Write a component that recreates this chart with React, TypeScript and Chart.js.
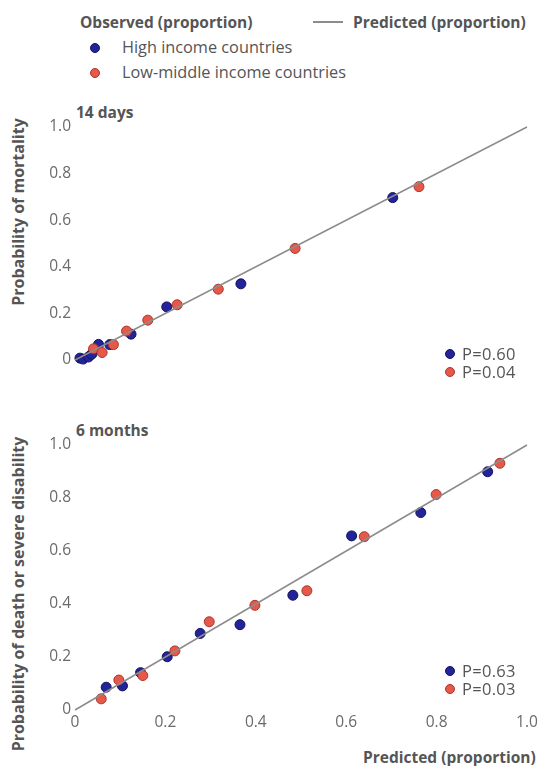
import React, { useEffect, useRef } from "react";
import { Chart, registerables } from "chart.js";

Chart.register(...registerables);

// ---- Data ----
const axisTicks = [0, 0.2, 0.4, 0.6, 0.8, 1.0];
const predictedLine = [0, 1];

// 14 days mortality
const mortHighX = [0.011, 0.018, 0.030, 0.037, 0.052, 0.077, 0.124, 0.203, 0.367, 0.703];
const mortHighY = [0.008, 0.004, 0.013, 0.025, 0.067, 0.066, 0.111, 0.228, 0.327, 0.697];
const mortLowX = [0.041, 0.060, 0.085, 0.114, 0.161, 0.226, 0.317, 0.487, 0.761];
const mortLowY = [0.048, 0.032, 0.066, 0.124, 0.171, 0.237, 0.304, 0.479, 0.744];

// 6 months death or severe disability
const disHighX = [0.069, 0.105, 0.145, 0.204, 0.277, 0.365, 0.482, 0.612, 0.765, 0.913];
const disHighY = [0.086, 0.091, 0.141, 0.201, 0.289, 0.322, 0.433, 0.657, 0.745, 0.899];
const disLowX = [0.058, 0.097, 0.150, 0.221, 0.297, 0.398, 0.513, 0.640, 0.799, 0.940];
const disLowY = [0.042, 0.113, 0.130, 0.223, 0.333, 0.395, 0.450, 0.654, 0.813, 0.931];

const pTop = ["P=0.60", "P=0.04"];
const pBottom = ["P=0.63", "P=0.03"];

const BLUE = "#23239a";
const BLUE_B = "#14145a";
const RED = "#e5584a";
const RED_B = "#a8372d";
const LINE = "#8c8c8c";
const TEXT = "#555555";
const TICK = "#6a6a6a";
const SANS = "'Open Sans', 'Noto Sans', sans-serif";
const BOLD = "'Open Sans', 'Noto Sans', sans-serif";

const zip = (xs: number[], ys: number[]) => xs.map((x, i) => ({ x, y: ys[i] }));

function Panel(props: {
  top: number;
  height: number;
  padTop: number;
  showX: boolean;
  highX: number[];
  highY: number[];
  lowX: number[];
  lowY: number[];
}) {
  const ref = useRef<HTMLCanvasElement>(null);
  useEffect(() => {
    if (!ref.current) return;
    const chart = new Chart(ref.current, {
      type: "scatter",
      data: {
        datasets: [
          {
            type: "line",
            data: zip(predictedLine, predictedLine),
            borderColor: LINE,
            borderWidth: 1.5,
            pointRadius: 0,
            fill: false,
            clip: false,
          } as any,
          {
            data: zip(props.lowX, props.lowY),
            backgroundColor: RED,
            borderColor: RED_B,
            borderWidth: 1,
            pointRadius: 5,
            clip: false,
          },
          {
            data: zip(props.highX, props.highY),
            backgroundColor: BLUE,
            borderColor: BLUE_B,
            borderWidth: 1,
            pointRadius: 5,
            clip: false,
          },
        ],
      },
      options: {
        animation: false,
        responsive: false,
        maintainAspectRatio: false,
        layout: { padding: { top: props.padTop, right: 15, bottom: props.showX ? 0 : 10, left: 0 } },
        plugins: { legend: { display: false }, tooltip: { enabled: false } },
        scales: {
          x: {
            type: "linear",
            min: 0,
            max: 1,
            display: props.showX,
            grid: { display: false, drawTicks: false },
            border: { display: false },
            afterBuildTicks: (s: any) => {
              s.ticks = axisTicks.map((v) => ({ value: v }));
            },
            afterFit: (s: any) => {
              s.height = 30;
            },
            ticks: {
              color: TICK,
              padding: 3,
              font: { family: SANS, size: 15.5 },
              maxRotation: 0,
              callback: (v: any) => (Number(v) === 0 ? "0" : Number(v).toFixed(1)),
            },
          },
          y: {
            type: "linear",
            min: 0,
            max: 1,
            grid: { display: false, drawTicks: false },
            border: { display: false },
            afterBuildTicks: (s: any) => {
              s.ticks = axisTicks.map((v) => ({ value: v }));
            },
            afterFit: (s: any) => {
              s.width = 75;
            },
            ticks: {
              color: TICK,
              padding: 4,
              font: { family: SANS, size: 15.5 },
              callback: (v: any) => (Number(v) === 0 ? "0" : Number(v).toFixed(1)),
            },
          },
        },
      },
    });
    return () => chart.destroy();
  }, []);
  return (
    <canvas
      ref={ref}
      width={542}
      height={props.height}
      style={{ position: "absolute", left: 0, top: props.top, width: 542, height: props.height }}
    />
  );
}

const txt = (
  left: number,
  cy: number,
  text: string,
  size: number,
  bold: boolean,
  spacing = 0
): React.ReactNode => (
  <div
    key={text + left + cy}
    style={{
      position: "absolute",
      left,
      top: cy - size * 0.6,
      fontSize: size,
      lineHeight: `${size * 1.2}px`,
      fontFamily: bold ? BOLD : SANS,
      fontWeight: bold ? 700 : 400,
      letterSpacing: spacing,
      color: TEXT,
      whiteSpace: "nowrap",
    }}
  >
    {text}
  </div>
);

const dot = (cx: number, cy: number, fill: string, border: string) => (
  <div
    key={"d" + cx + cy}
    style={{
      position: "absolute",
      left: cx - 5,
      top: cy - 5,
      width: 10,
      height: 10,
      borderRadius: "50%",
      background: fill,
      boxSizing: "border-box",
      border: `1px solid ${border}`,
    }}
  />
);

const vtitle = (cx: number, cy: number, text: string) => (
  <div
    style={{
      position: "absolute",
      left: cx,
      top: cy,
      transform: "translate(-50%, -50%) rotate(-90deg)",
      fontSize: 16,
      fontFamily: BOLD,
      fontWeight: 700,
      color: TEXT,
      whiteSpace: "nowrap",
      lineHeight: 1,
    }}
  >
    {text}
  </div>
);

export default function App() {
  return (
    <div
      style={{
        position: "fixed",
        left: 0,
        top: 0,
        width: 542,
        height: 766,
        background: "#fff",
        overflow: "hidden",
      }}
    >
      {/* Legend */}
      {txt(80, 22, "Observed (proportion)", 15.5, true)}
      <div
        style={{ position: "absolute", left: 313, top: 21, width: 30, height: 1.5, background: LINE }}
      />
      {txt(353, 22, "Predicted (proportion)", 15.5, true)}
      {dot(95, 48, BLUE, BLUE_B)}
      {txt(122, 48, "High income countries", 16.3, false)}
      {dot(95, 73, RED, RED_B)}
      {txt(122, 73, "Low-middle income countries", 16.3, false)}

      {/* Top panel */}
      {txt(76, 112, "14 days", 15.5, true)}
      {vtitle(18, 212, "Probability of mortality")}
      <Panel
        top={100}
        height={300}
        padTop={27}
        showX={false}
        highX={mortHighX}
        highY={mortHighY}
        lowX={mortLowX}
        lowY={mortLowY}
      />
      {dot(450, 354, BLUE, BLUE_B)}
      {txt(462, 354, pTop[0], 16.5, false, 0.3)}
      {dot(450, 372, RED, RED_B)}
      {txt(462, 372, pTop[1], 16.5, false, 0.3)}

      {/* Bottom panel */}
      {txt(76, 430, "6 months", 15.5, true)}
      {vtitle(18, 594, "Probability of death or severe disability")}
      <Panel
        top={420}
        height={320}
        padTop={25}
        showX={true}
        highX={disHighX}
        highY={disHighY}
        lowX={disLowX}
        lowY={disLowY}
      />
      {dot(450, 671, BLUE, BLUE_B)}
      {txt(462, 671, pBottom[0], 16.5, false, 0.3)}
      {dot(450, 689, RED, RED_B)}
      {txt(462, 689, pBottom[1], 16.5, false, 0.3)}
      {txt(363, 757, "Predicted (proportion)", 15.5, true)}
    </div>
  );
}
